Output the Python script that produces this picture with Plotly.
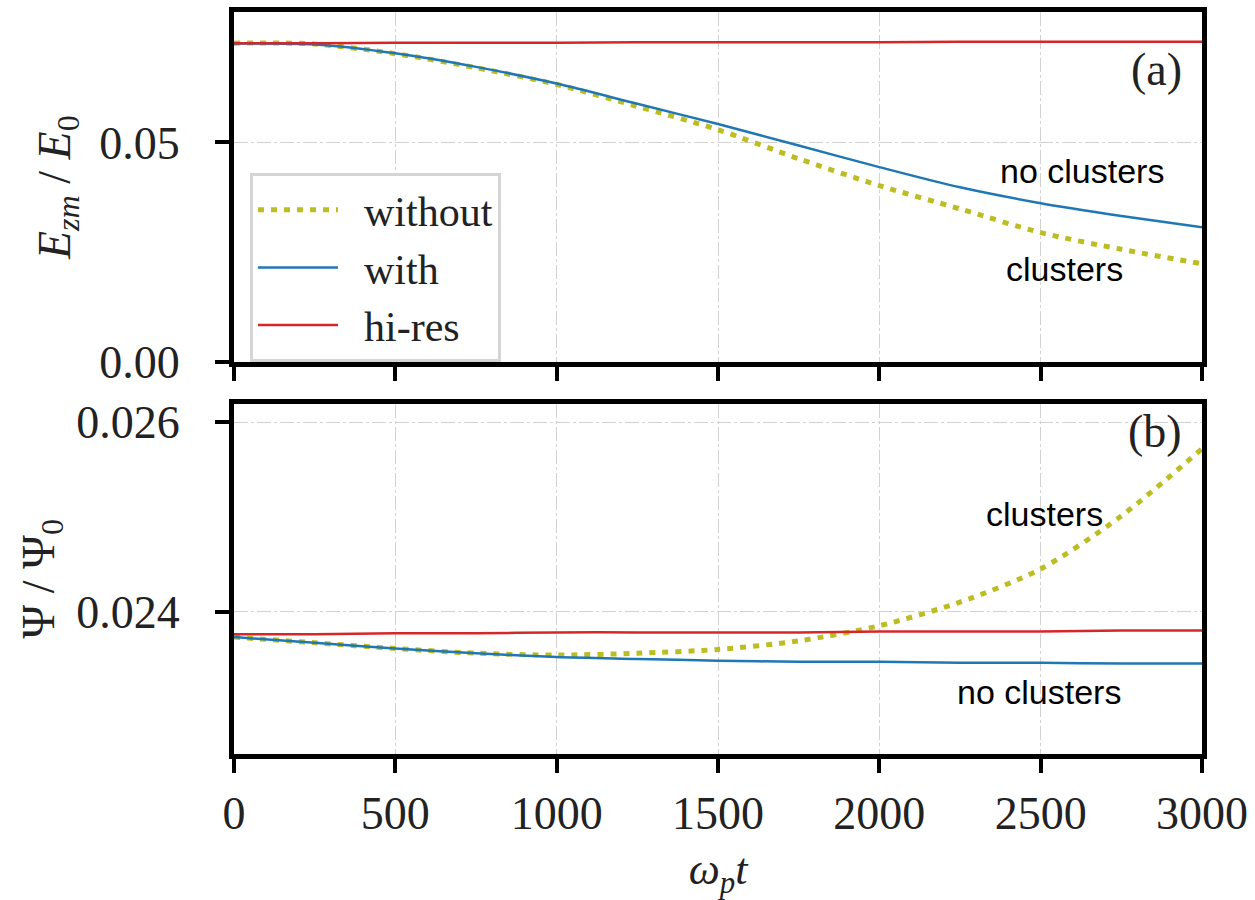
import plotly.graph_objects as go
from plotly.subplots import make_subplots

# ---- data ----
t = [0, 250, 500, 750, 1000, 1250, 1500, 1750, 2000, 2250, 2500, 2750, 3000]

ez_without = [0.0726, 0.0724, 0.0702, 0.0670, 0.0632, 0.0582, 0.0529, 0.0463, 0.0402, 0.0349, 0.0295, 0.0257, 0.0224]
ez_with    = [0.0725, 0.0723, 0.0703, 0.0672, 0.0634, 0.0588, 0.0542, 0.0493, 0.0444, 0.0398, 0.0362, 0.0333, 0.0307]
ez_hires   = [0.0726, 0.0726, 0.0727, 0.0727, 0.0727, 0.0728, 0.0728, 0.0728, 0.0728, 0.0729, 0.0729, 0.0729, 0.0729]

psi_without = [0.02373, 0.02367, 0.02361, 0.02356, 0.02354, 0.02356, 0.02360, 0.02369, 0.02385, 0.02410, 0.02445, 0.02501, 0.02572]
psi_with    = [0.02373, 0.02367, 0.02361, 0.02356, 0.02352, 0.02350, 0.02348, 0.02347, 0.02347, 0.02346, 0.02346, 0.02345, 0.02345]
psi_hires   = [0.02376, 0.02376, 0.02377, 0.02377, 0.02378, 0.02378, 0.02378, 0.02378, 0.02379, 0.02379, 0.02379, 0.02380, 0.02380]

series_names = ["without", "with", "hi-res"]
x_ticks = [0, 500, 1000, 1500, 2000, 2500, 3000]
top_yticks = [0.00, 0.05]
bot_yticks = [0.024, 0.026]

YELLOW = "#bcbd22"
BLUE = "#1f77b4"
RED = "#d62728"
SERIF = "Liberation Serif"
SANS = "Liberation Sans"

W, H = 1255, 900
ML, MR, MT, MB = 234, 53, 12, 146
plot_h = H - MT - MB

fig = make_subplots(rows=2, cols=1, shared_xaxes=False, vertical_spacing=0.0)

styles = [
    dict(color=YELLOW, width=5, dash="6px,7px"),
    dict(color=BLUE, width=2.5),
    dict(color=RED, width=2.5),
]
top_data = [ez_without, ez_with, ez_hires]
bot_data = [psi_without, psi_with, psi_hires]

for name, st, yv in zip(series_names, styles, top_data):
    fig.add_trace(go.Scatter(x=t, y=yv, mode="lines", name="\u2002" + name,
                             line=dict(shape="spline", smoothing=0.8, **st),
                             showlegend=True), row=1, col=1)
for name, st, yv in zip(series_names, styles, bot_data):
    fig.add_trace(go.Scatter(x=t, y=yv, mode="lines", name=name,
                             line=dict(shape="spline", smoothing=0.8, **st),
                             showlegend=False), row=2, col=1)

top_dom = [(754 - 362.3) / plot_h, 1.0]
bot_dom = [0.0, (754 - 403.8) / plot_h]

axis_common = dict(
    showline=True, linecolor="black", linewidth=5, mirror=True,
    ticks="outside", ticklen=14, tickwidth=4, tickcolor="black",
    showgrid=True, gridcolor="#d2d2d2", gridwidth=1, griddash="14px,3px,3px,3px",
    zeroline=False, automargin=False,
    tickfont=dict(family=SERIF, size=46, color="#222222"),
)

fig.update_xaxes(range=[0, 3000], tickvals=x_ticks, **axis_common)
fig.update_xaxes(row=1, col=1, showticklabels=False, domain=[0, 1])
fig.update_xaxes(row=2, col=1, domain=[0, 1], ticklabelstandoff=1,
                 title=dict(text="<i>ω</i><sub><i>p</i></sub><i>t</i>",
                            font=dict(family=SERIF, size=44, color="#222222"), standoff=39))

fig.update_yaxes(**axis_common)
fig.update_yaxes(row=1, col=1, range=[0, 0.07968], tickvals=top_yticks, tickformat=".2f", domain=top_dom,
                 ticklabelstandoff=26,
                 title=dict(text="<i>E</i><sub><i>zm</i></sub> / <i>E</i><sub>0</sub>",
                            font=dict(family=SERIF, size=46, color="#222222"), standoff=16))
fig.update_yaxes(row=2, col=1, range=[0.022495, 0.026195], tickvals=bot_yticks, tickformat=".3f", domain=bot_dom,
                 ticklabelstandoff=26,
                 title=dict(text="Ψ / Ψ<sub>0</sub>",
                            font=dict(family=SERIF, size=46, color="#222222"), standoff=9))

# annotations
ann_font_sans = dict(family=SANS, size=34, color="black")
ann_font_serif = dict(family=SERIF, size=46, color="#222222")
fig.add_annotation(x=2858, y=0.0665, xref="x", yref="y", text="(a)", showarrow=False, font=ann_font_serif)
fig.add_annotation(x=2628, y=0.0436, xref="x", yref="y", text="no clusters", showarrow=False, font=ann_font_sans)
fig.add_annotation(x=2575, y=0.0212, xref="x", yref="y", text="clusters", showarrow=False, font=ann_font_sans)
fig.add_annotation(x=2855, y=0.02590, xref="x2", yref="y2", text="(b)", showarrow=False, font=ann_font_serif)
fig.add_annotation(x=2513, y=0.02503, xref="x2", yref="y2", text="clusters", showarrow=False, font=ann_font_sans)
fig.add_annotation(x=2495, y=0.02315, xref="x2", yref="y2", text="no clusters", showarrow=False, font=ann_font_sans)

fig.update_layout(
    width=W, height=H,
    margin=dict(l=ML, r=MR, t=MT, b=MB, autoexpand=False),
    paper_bgcolor="white", plot_bgcolor="white",
    legend=dict(
        x=(250 - ML) / (W - ML - MR), y=(754 - 173) / plot_h, xanchor="left", yanchor="top",
        bgcolor="white", bordercolor="#d5d5d5", borderwidth=3,
        font=dict(family=SERIF, size=42, color="#222222"),
        itemwidth=80, tracegroupgap=0,
    ),
    font=dict(family=SERIF),
)

fig.write_html("out.html")
